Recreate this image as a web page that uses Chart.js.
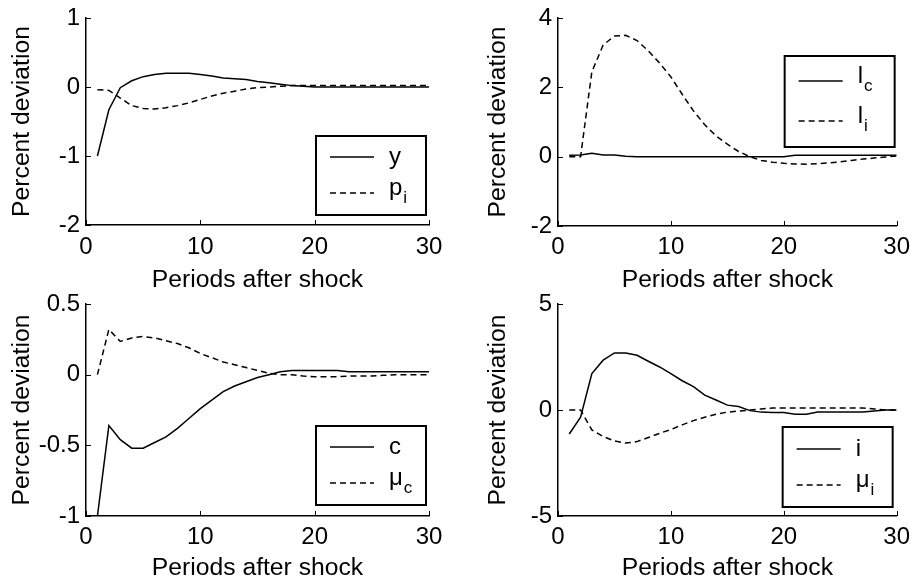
<!DOCTYPE html>
<html>
<head>
<meta charset="utf-8">
<title>Impulse responses</title>
<script src="https://cdn.jsdelivr.net/npm/chart.js@4.4.1/dist/chart.umd.min.js"></script>
<style>
  body { margin: 0; background: #fff; }
  #wrap { position: relative; width: 917px; height: 588px; overflow: hidden; }
  canvas { position: absolute; }
</style>
</head>
<body>
<div id="wrap">
  <canvas id="panel1" width="458" height="300" style="left:0;top:0"></canvas>
  <canvas id="panel2" width="459" height="300" style="left:458px;top:0"></canvas>
  <canvas id="panel3" width="458" height="302" style="left:0;top:286px"></canvas>
  <canvas id="panel4" width="459" height="302" style="left:458px;top:286px"></canvas>
</div>
<script>
// Periods after the shock
const periods = [1, 2, 3, 4, 5, 6, 7, 8, 9, 10, 11, 12, 13, 14, 15,
                 16, 17, 18, 19, 20, 21, 22, 23, 24, 25, 26, 27, 28, 29, 30];

// Top left: output and investment-good price
const outputY = [-1.0, -0.33, -0.01, 0.09, 0.15, 0.18, 0.2, 0.2, 0.2, 0.18, 0.16, 0.13, 0.12, 0.11, 0.08,
                 0.06, 0.04, 0.02, 0.01, 0, 0, 0, 0, 0, 0, 0, 0, 0, 0, 0];
const priceI = [-0.04, -0.05, -0.16, -0.27, -0.31, -0.32, -0.3, -0.27, -0.23, -0.18, -0.13, -0.09, -0.06, -0.03, -0.01,
                0.0, 0.01, 0.02, 0.02, 0.02, 0.02, 0.02, 0.02, 0.02, 0.02, 0.02, 0.02, 0.02, 0.02, 0.02];

// Top right: labour in each sector
const laborC = [0.04, 0.05, 0.1, 0.05, 0.05, 0.01, 0, 0, 0, 0, 0, 0, 0, 0, 0,
                0, 0, 0, 0, 0, 0.04, 0.04, 0.04, 0.04, 0.04, 0.04, 0.04, 0.04, 0.04, 0.04];
const laborI = [0, 0, 2.45, 3.22, 3.48, 3.5, 3.35, 3.05, 2.7, 2.3, 1.8, 1.32, 0.92, 0.6, 0.36,
                0.15, 0.0, -0.11, -0.16, -0.19, -0.21, -0.22, -0.2, -0.18, -0.15, -0.11, -0.07, -0.04, -0.01, 0.02];

// Bottom left: consumption and its markup
const consC = [-1.0, -0.36, -0.46, -0.52, -0.52, -0.48, -0.44, -0.38, -0.31, -0.24, -0.18, -0.12, -0.08, -0.05, -0.02,
               0.0, 0.02, 0.03, 0.03, 0.03, 0.03, 0.03, 0.02, 0.02, 0.02, 0.02, 0.02, 0.02, 0.02, 0.02];
const markupC = [0, 0.32, 0.235, 0.26, 0.27, 0.26, 0.24, 0.22, 0.19, 0.15, 0.12, 0.09, 0.07, 0.05, 0.03,
                 0.01, 0.0, 0.0, -0.01, -0.015, -0.015, -0.015, -0.01, -0.01, -0.01, -0.005, 0, 0, 0, 0];

// Bottom right: investment and its markup
const invI = [-1.13, -0.34, 1.72, 2.35, 2.69, 2.69, 2.58, 2.3, 2.03, 1.72, 1.38, 1.1, 0.7, 0.47, 0.23,
              0.16, -0.03, -0.1, -0.12, -0.12, -0.2, -0.2, -0.1, -0.1, -0.1, -0.1, -0.1, -0.05, 0, 0];
const markupI = [0, 0, -0.94, -1.25, -1.46, -1.56, -1.49, -1.3, -1.1, -0.92, -0.7, -0.5, -0.34, -0.2, -0.1,
                 -0.05, 0, 0.05, 0.1, 0.1, 0.1, 0.1, 0.1, 0.1, 0.1, 0.1, 0.1, 0.05, 0, 0];

// Axis ranges [min, max, step]
const xTicks = [0, 30, 10];
const yTicks1 = [-2, 1, 1];
const yTicks2 = [-2, 4, 2];
const yTicks3 = [-1, 0.5, 0.5];
const yTicks4 = [-5, 5, 5];

const FONT = "'Liberation Sans', Arial, sans-serif";
Chart.defaults.font.family = FONT;
Chart.defaults.color = '#000';

// Short tick marks pointing into the plot, like the original
const innerTicks = {
    id: 'innerTicks',
    afterDraw(chart) {
        const { ctx, chartArea, scales: { x, y } } = chart;
        ctx.save();
        ctx.strokeStyle = '#000';
        ctx.lineWidth = 1;
        x.ticks.forEach(t => {
            const px = Math.round(x.getPixelForValue(t.value)) + 0.5;
            ctx.beginPath();
            ctx.moveTo(px, chartArea.bottom);
            ctx.lineTo(px, chartArea.bottom - 5);
            ctx.stroke();
        });
        y.ticks.forEach(t => {
            const py = Math.round(y.getPixelForValue(t.value)) + 0.5;
            ctx.beginPath();
            ctx.moveTo(chartArea.left, py);
            ctx.lineTo(chartArea.left + 5, py);
            ctx.stroke();
        });
        ctx.restore();
    }
};

// Boxed legend with subscripts (label "p_i" -> p with subscript i)
const boxLegend = {
    id: 'boxLegend',
    afterDraw(chart, args, opts) {
        const { ctx, chartArea } = chart;
        const bx = chartArea.right - opts.right - opts.width;
        const by = opts.top != null ? chartArea.top + opts.top : chartArea.bottom - opts.bottom - opts.height;
        ctx.save();
        ctx.fillStyle = '#fff';
        ctx.fillRect(bx, by, opts.width, opts.height);
        ctx.strokeStyle = '#000';
        ctx.lineWidth = 2;
        ctx.strokeRect(bx, by, opts.width, opts.height);

        chart.data.datasets.forEach((ds, i) => {
            const ly = by + opts.rows[i];
            ctx.lineWidth = ds.borderWidth;
            ctx.setLineDash(ds.borderDash || []);
            ctx.beginPath();
            ctx.moveTo(bx + 14, ly);
            ctx.lineTo(bx + 58, ly);
            ctx.stroke();
            ctx.setLineDash([]);

            const [main, sub] = ds.label.split('_');
            const base = sub ? ly + 2 : ly + 7;
            ctx.fillStyle = '#000';
            ctx.textBaseline = 'alphabetic';
            ctx.textAlign = 'left';
            ctx.font = '24px ' + FONT;
            ctx.fillText(main, bx + 73, base);
            if (sub) {
                const w = ctx.measureText(main).width;
                ctx.font = '17px ' + FONT;
                ctx.fillText(sub, bx + 73 + w + 1, base + 8);
            }
        });
        ctx.restore();
    }
};

function series(values) {
    return values.map((v, i) => ({ x: periods[i], y: v }));
}

function makePanel(id, solid, dashed, yRange, area, titlePad, legend) {
    const canvas = document.getElementById(id);
    const W = canvas.width, H = canvas.height;
    return new Chart(canvas, {
        type: 'line',
        data: {
            datasets: [
                {
                    label: solid.label,
                    data: series(solid.data),
                    borderColor: '#000',
                    borderWidth: 1.5,
                    pointRadius: 0,
                    tension: 0,
                    fill: false
                },
                {
                    label: dashed.label,
                    data: series(dashed.data),
                    borderColor: '#000',
                    borderWidth: 1.5,
                    borderDash: [6, 4],
                    pointRadius: 0,
                    tension: 0,
                    fill: false
                }
            ]
        },
        options: {
            responsive: false,
            animation: false,
            events: [],
            layout: {
                padding: { left: 0, top: area.top, right: W - area.right, bottom: 0 }
            },
            plugins: {
                legend: { display: false },
                tooltip: { enabled: false },
                boxLegend: legend
            },
            scales: {
                x: {
                    type: 'linear',
                    min: xTicks[0],
                    max: xTicks[1],
                    afterFit: s => { s.height = H - area.bottom; },
                    ticks: { stepSize: xTicks[2], maxRotation: 0, padding: area.xPad, font: { size: 24 } },
                    grid: { drawOnChartArea: false, drawTicks: false },
                    border: { color: '#000', width: 1.5 },
                    title: {
                        display: true,
                        text: 'Periods after shock',
                        font: { size: 24.7 },
                        padding: { top: 0, bottom: 5.2 }
                    }
                },
                y: {
                    type: 'linear',
                    min: yRange[0],
                    max: yRange[1],
                    afterFit: s => { s.width = area.left; },
                    ticks: {
                        stepSize: yRange[2],
                        padding: 6,
                        font: { size: 24, lineHeight: 1 },
                        callback: v => String(v)
                    },
                    grid: { drawOnChartArea: false, drawTicks: false },
                    border: { color: '#000', width: 1.5 },
                    title: {
                        display: true,
                        text: 'Percent deviation',
                        font: { size: 24.7 },
                        padding: { top: titlePad - 0.4, bottom: 0 }
                    }
                }
            }
        },
        plugins: [innerTicks, boxLegend]
    });
}

makePanel('panel1',
    { label: 'y', data: outputY },
    { label: 'p_i', data: priceI },
    yTicks1,
    { left: 86, right: 429, top: 13, bottom: 225, xPad: 8 },
    7.6,
    { right: 3, bottom: 10, width: 110, height: 79, rows: [21, 57] });

makePanel('panel2',
    { label: 'l_c', data: laborC },
    { label: 'l_i', data: laborI },
    yTicks2,
    { left: 100, right: 443, top: 14, bottom: 226, xPad: 7 },
    25.6,
    { right: 2, top: 38, width: 110, height: 91, rows: [25, 65] });

makePanel('panel3',
    { label: 'c', data: consC },
    { label: 'μ_c', data: markupC },
    yTicks3,
    { left: 86, right: 429, top: 18, bottom: 230, xPad: 7 },
    7.6,
    { right: 3, bottom: 11, width: 110, height: 79, rows: [21, 57] });

makePanel('panel4',
    { label: 'i', data: invI },
    { label: 'μ_i', data: markupI },
    yTicks4,
    { left: 100, right: 443, top: 18, bottom: 230, xPad: 7 },
    25.6,
    { right: 4, bottom: 9, width: 110, height: 80, rows: [22, 58] });
</script>
</body>
</html>
